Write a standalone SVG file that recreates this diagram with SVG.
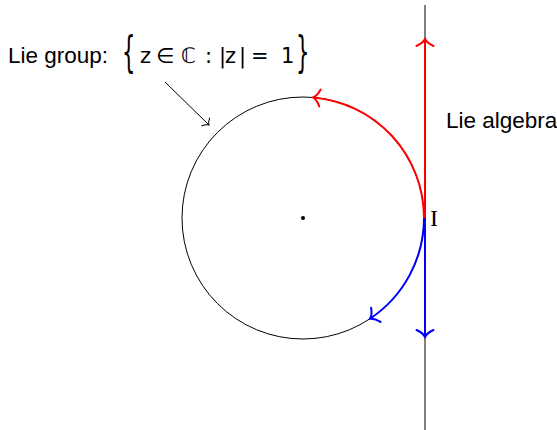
<svg xmlns="http://www.w3.org/2000/svg" width="557" height="430" viewBox="0 0 557 430">
<style>
.lbl{font-family:"Liberation Sans","DejaVu Sans",sans-serif;font-size:22.5px;fill:#000}
.m{font-family:"DejaVu Sans","Liberation Sans",sans-serif;font-size:21px;fill:#000}
.br{font-family:"DejaVu Sans",sans-serif;font-size:21px;fill:#000}
</style>
<defs>
<marker id="tr" markerUnits="userSpaceOnUse" viewBox="-10 -10 20 20" markerWidth="20" markerHeight="20" refX="0" refY="0" orient="auto">
<path d="M -7,-8.5 C -5,-4 -2,-1 0,0 C -2,1 -5,4 -7,8.5" fill="none" stroke="#ff0000" stroke-width="2" stroke-linecap="round"/>
</marker>
<marker id="tb" markerUnits="userSpaceOnUse" viewBox="-10 -10 20 20" markerWidth="20" markerHeight="20" refX="0" refY="0" orient="auto">
<path d="M -7,-8.5 C -5,-4 -2,-1 0,0 C -2,1 -5,4 -7,8.5" fill="none" stroke="#0000ff" stroke-width="2" stroke-linecap="round"/>
</marker>
<marker id="tk" markerUnits="userSpaceOnUse" viewBox="-10 -10 20 20" markerWidth="20" markerHeight="20" refX="0" refY="0" orient="auto">
<path d="M -4.5,-5.5 C -3.2,-2.5 -1.2,-0.6 0,0 C -1.2,0.6 -3.2,2.5 -4.5,5.5" fill="none" stroke="#000" stroke-width="1" stroke-linecap="round"/>
</marker>
</defs>
<g id="circle-node">
<circle cx="303" cy="218" r="121" fill="none" stroke="#000" stroke-width="1"/>
<circle cx="303" cy="218" r="2" fill="#000"/>
</g>
<g id="axis-node">
<line x1="425" y1="5" x2="425" y2="430" stroke="#000" stroke-width="1"/>
</g>
<g id="connectors">
<line x1="425" y1="218" x2="425" y2="39" stroke="#ff0000" stroke-width="2" marker-end="url(#tr)"/>
<line x1="425" y1="218" x2="425" y2="337" stroke="#0000ff" stroke-width="2" marker-end="url(#tb)"/>
<path d="M 424,218 A 121 121 0 0 0 313,97.4" fill="none" stroke="#ff0000" stroke-width="2" marker-end="url(#tr)"/>
<path d="M 424,218 A 121 121 0 0 1 370,318.7" fill="none" stroke="#0000ff" stroke-width="2" marker-end="url(#tb)"/>
<line x1="165" y1="82" x2="209" y2="125" stroke="#000" stroke-width="1" marker-end="url(#tk)"/>
</g>
<g id="lie-group-label">
<text class="lbl" x="8" y="63">Lie group:</text>
<text class="br" x="0" y="0" transform="translate(122,67) scale(1,2)">{</text>
<text class="m" y="63"><tspan x="140">z</tspan><tspan x="156">∈</tspan><tspan x="181">ℂ</tspan><tspan x="205">:</tspan><tspan x="219">|</tspan><tspan x="225">z</tspan><tspan x="239">|</tspan><tspan x="251">=</tspan><tspan x="281">1</tspan></text>
<text class="br" x="0" y="0" transform="translate(296,67) scale(1,2)">}</text>
</g>
<g id="lie-algebra-label">
<text class="lbl" x="446" y="128">Lie algebra</text>
</g>
<g id="identity-label">
<text x="430" y="226" font-family="Liberation Serif,serif" font-size="24" fill="#000">I</text>
</g>
</svg>
